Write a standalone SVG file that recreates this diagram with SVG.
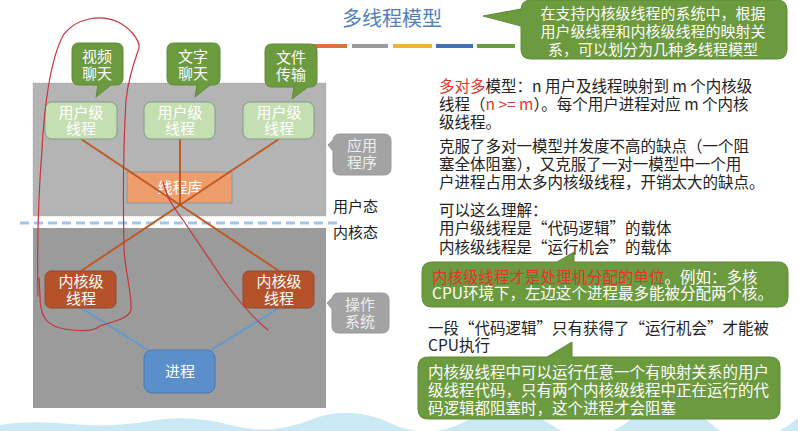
<svg xmlns="http://www.w3.org/2000/svg" width="798" height="431" viewBox="0 0 798 431">
<style>
text{font-family:"Noto Sans CJK SC","Noto Sans",sans-serif;}
.nt{font-size:15px;fill:#fff;text-anchor:middle;}
.st{font-size:15px;fill:#eeeeee;text-anchor:middle;}
.bt{font-size:15px;fill:#222;}
.rt{font-size:15.5px;fill:#222;}
.wt{font-size:15.5px;fill:#fff;}
.red{fill:#e0352b;}
.gb{fill:#6c9a3e;stroke:#5f8a35;stroke-width:1;}
.gy{fill:#a3a3a3;stroke:#999;stroke-width:1;}
.ut{fill:#c5dfb2;stroke:#7f9a8c;stroke-width:1;}
.kt{fill:#b5522a;stroke:#8f4a30;stroke-width:1;}
.ol{stroke:#bf5a22;stroke-width:2;fill:none;}
.bl{stroke:#5b9bd5;stroke-width:1.6;fill:none;}
.scr{stroke:#c8343c;stroke-width:1.2;fill:none;stroke-linecap:round;}
</style>

<!-- background wave -->
<path d="M0,431 L0,425 Q30,420 70,424 T150,421 T230,425 T310,420 T390,423 T470,419 T550,424 T630,420 T710,423 T798,418 L798,431 Z" fill="#cbe9f5"/>

<!-- title -->
<g id="title">
<text x="392" y="26" font-size="20" fill="#4f80bc" text-anchor="middle">多线程模型</text>
<rect x="313" y="44" width="34" height="4" fill="#e0703a"/>
<rect x="352" y="44" width="36" height="4" fill="#9a9a9a"/>
<rect x="393" y="44" width="39" height="4" fill="#f2b33a"/>
<rect x="436" y="44" width="37" height="4" fill="#3f6fb5"/>
<rect x="477" y="44" width="38" height="4" fill="#6c9a3e"/>
</g>

<!-- regions -->
<g id="user-space">
<rect x="33" y="83" width="293" height="133" fill="#b4b4b4" stroke="#9a9a9a" stroke-width="0.6" stroke-dasharray="1,1"/>
</g>
<g id="kernel-space">
<rect x="33" y="228" width="293" height="180" fill="#9b9b9b"/>
</g>
<line x1="20" y1="223" x2="340" y2="223" stroke="#a2c4e6" stroke-width="3" stroke-dasharray="9,5"/>

<g id="label-user-mode"><text class="bt" x="333" y="212">用户态</text></g>
<g id="label-kernel-mode"><text class="bt" x="333" y="238">内核态</text></g>

<!-- thread library -->
<g id="thread-lib">
<rect x="127" y="172" width="105" height="31" fill="#ee9e6c" stroke="#8a96a6" stroke-width="1"/>
<text class="nt" x="180" y="193">线程库</text>
</g>

<!-- connectors -->
<g id="connectors">
<line class="ol" x1="81" y1="139" x2="279" y2="271"/>
<line class="ol" x1="180" y1="139" x2="180" y2="205"/>
<line class="ol" x1="279" y1="139" x2="81" y2="271"/>
<line class="bl" x1="81" y1="308" x2="148" y2="350"/>
<line class="bl" x1="279" y1="308" x2="211" y2="350"/>
</g>

<!-- app bubbles -->
<g id="bubble-video">
<path class="gb" d="M79,43 H116 Q123,43 123,50 V78 Q123,85 116,85 H111 L96,97 L98,85 H79 Q72,85 72,78 V50 Q72,43 79,43 Z"/>
<text class="nt" x="97" y="62">视频</text>
<text class="nt" x="97" y="79">聊天</text>
</g>
<g id="bubble-text">
<path class="gb" d="M174,43 H213 Q220,43 220,50 V78 Q220,85 213,85 H210 L195,97 L197,85 H174 Q167,85 167,78 V50 Q167,43 174,43 Z"/>
<text class="nt" x="193" y="62">文字</text>
<text class="nt" x="193" y="79">聊天</text>
</g>
<g id="bubble-file">
<path class="gb" d="M272,44 H310 Q317,44 317,51 V80 Q317,87 310,87 H308 L292,99 L294,87 H272 Q265,87 265,80 V51 Q265,44 272,44 Z"/>
<text class="nt" x="291" y="63">文件</text>
<text class="nt" x="291" y="80">传输</text>
</g>

<!-- user-level threads -->
<g id="ult-1">
<rect class="ut" x="45" y="102" width="72" height="37" rx="7"/>
<text class="nt" x="81" y="118">用户级</text>
<text class="nt" x="81" y="134">线程</text>
</g>
<g id="ult-2">
<rect class="ut" x="144" y="102" width="71" height="37" rx="7"/>
<text class="nt" x="180" y="118">用户级</text>
<text class="nt" x="180" y="134">线程</text>
</g>
<g id="ult-3">
<rect class="ut" x="243" y="102" width="71" height="37" rx="7"/>
<text class="nt" x="279" y="118">用户级</text>
<text class="nt" x="279" y="134">线程</text>
</g>

<!-- kernel-level threads -->
<g id="klt-1">
<rect class="kt" x="45" y="271" width="71" height="37" rx="6"/>
<text class="nt" x="81" y="287">内核级</text>
<text class="nt" x="81" y="304">线程</text>
</g>
<g id="klt-2">
<rect class="kt" x="243" y="271" width="71" height="37" rx="6"/>
<text class="nt" x="279" y="287">内核级</text>
<text class="nt" x="279" y="304">线程</text>
</g>

<!-- process -->
<g id="process">
<rect x="144" y="350" width="71" height="43" rx="8" fill="#5b8fcb" stroke="#4a78ad" stroke-width="1"/>
<text class="nt" x="180" y="377" font-size="16">进程</text>
</g>

<!-- side labels -->
<g id="bubble-app">
<path class="gy" d="M340,134 H384 Q391,134 391,141 V168 Q391,175 384,175 H340 Q333,175 333,168 V151 L328,145 L333,140 V141 Q333,134 340,134 Z"/>
<text class="st" x="362" y="151">应用</text>
<text class="st" x="362" y="168">程序</text>
</g>
<g id="bubble-os">
<path class="gy" d="M339,293 H382 Q389,293 389,300 V326 Q389,333 382,333 H339 Q332,333 332,326 V309 L327,303 L332,298 V300 Q332,293 339,293 Z"/>
<text class="st" x="360" y="310">操作</text>
<text class="st" x="360" y="327">系统</text>
</g>

<!-- handwritten annotations -->
<g id="scribbles">
<path class="scr" d="M38,296 C37,250 38,200 42,150 C44,110 50,58 64,34 C77,18 100,14 118,22 C130,28 140,40 139,48 C134,62 128,80 126,100 C123,150 123,200 124,250 C126,275 132,295 131,310 C128,320 110,322 100,326 C92,333 75,331 60,328 C45,324 40,315 40,295 L39,278"/>
<path class="scr" d="M163,182 C168,200 172,205 183,220 C193,235 202,248 210,260 C218,272 225,283 233,293 C245,308 255,320 268,330"/>
</g>

<!-- top-right note -->
<g id="note-top">
<path class="gb" d="M531,0 H777 Q787,0 787,10 V49 Q787,59 777,59 H531 Q521,59 521,49 V26 L483,16 L521,9 V10 Q521,0 531,0 Z"/>
<text class="nt" x="653" y="18.5">在支持内核级线程的系统中，根据</text>
<text class="nt" x="653" y="37">用户级线程和内核级线程的映射关</text>
<text class="nt" x="653" y="55">系，可以划分为几种多线程模型</text>
</g>

<!-- main text -->
<g id="desc">
<text class="rt" x="439" y="91.5"><tspan class="red">多对多</tspan>模型：n 用户及线程映射到 m 个内核级</text>
<text class="rt" x="439" y="109.5">线程（<tspan class="red">n &gt;= m</tspan>）。每个用户进程对应 m 个内核</text>
<text class="rt" x="439" y="127.5">级线程。</text>
<text class="rt" x="439" y="151.5">克服了多对一模型并发度不高的缺点（一个阻</text>
<text class="rt" x="439" y="169.5">塞全体阻塞），又克服了一对一模型中一个用</text>
<text class="rt" x="439" y="187.5">户进程占用太多内核级线程，开销太大的缺点。</text>
<text class="rt" x="439" y="215.5">可以这么理解：</text>
<text class="rt" x="439" y="233.5">用户级线程是“代码逻辑”的载体</text>
<text class="rt" x="439" y="252.5">内核级线程是“运行机会”的载体</text>
<text class="rt" x="428" y="333.5">一段“代码逻辑”只有获得了“运行机会”才能被</text>
<text class="rt" x="428" y="350.5">CPU执行</text>
</g>

<g id="note-unit">
<path class="gb" d="M432,262 H557 L574,252 V262 H778 Q788,262 788,272 V297 Q788,307 778,307 H432 Q422,307 422,297 V272 Q422,262 432,262 Z"/>
<text class="wt" x="432" y="282.5"><tspan class="red">内核级线程才是处理机分配的单位</tspan>。例如：多核</text>
<text class="wt" x="432" y="299">CPU环境下，左边这个进程最多能被分配两个核。</text>
</g>

<g id="note-block">
<path class="gb" d="M428,357 H547 L572,342 V357 H770 Q780,357 780,367 V409 Q780,419 770,419 H428 Q418,419 418,409 V367 Q418,357 428,357 Z"/>
<text class="wt" x="428" y="377.5">内核级线程中可以运行任意一个有映射关系的用户</text>
<text class="wt" x="428" y="395.5">级线程代码，只有两个内核级线程中正在运行的代</text>
<text class="wt" x="428" y="413.5">码逻辑都阻塞时，这个进程才会阻塞</text>
</g>
</svg>
